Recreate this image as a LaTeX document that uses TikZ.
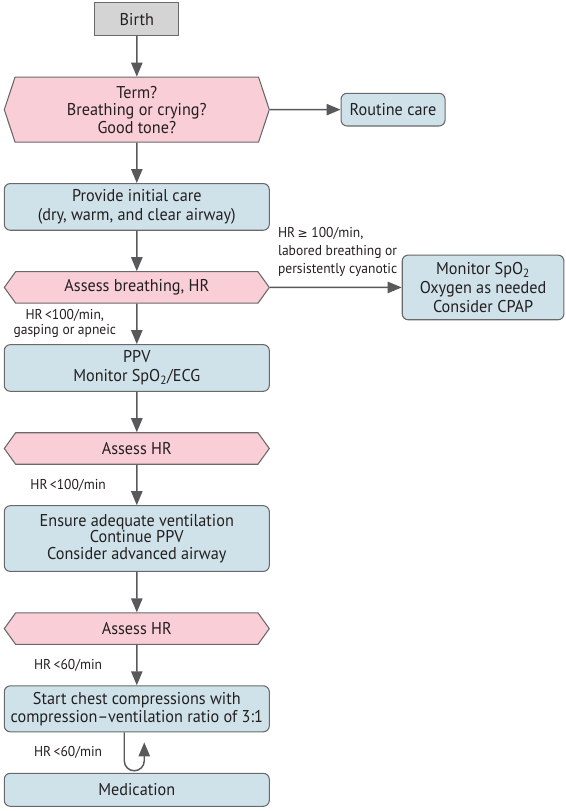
\documentclass[tikz,border=0pt]{standalone}
\usepackage{fontspec}
\setmainfont{PT Sans}[FakeStretch=0.95]
\newfontfamily\symfont{DejaVu Sans}[Scale=0.85]
\usetikzlibrary{positioning,shapes.symbols,arrows.meta,calc}

\definecolor{hexpink}{RGB}{249,206,215}
\definecolor{boxblue}{RGB}{207,226,234}
\definecolor{birthgray}{RGB}{212,212,212}
\definecolor{edgegray}{RGB}{105,105,107}
\definecolor{arrowgray}{RGB}{88,89,91}
\definecolor{txt}{RGB}{35,31,32}

\tikzset{
  box/.style={draw=edgegray, line width=0.8pt, fill=boxblue, rounded corners=4.5pt,
    align=center, minimum width=198.75pt, minimum height=35pt, inner sep=1pt,
    text=txt, font=\fontsize{12.8}{13.7}\selectfont},
  check/.style={signal, signal to=west and east, signal pointer angle=108.5,
    draw=edgegray, line width=0.8pt, fill=hexpink, align=center,
    minimum width=198.75pt, minimum height=23.6pt, inner sep=1pt,
    text=txt, font=\fontsize{12.8}{13.1}\selectfont},
  cond/.style={text=txt, align=center, inner sep=0pt,
    font=\fontsize{10.7}{13.7}\selectfont},
}

\begin{document}
\begin{tikzpicture}[->,>={Triangle[length=10.5pt,width=8.5pt]}, node distance=30.3pt,
  line width=1.1pt, arrowgray]

\useasboundingbox (-102.6pt,14.4pt) rectangle (321.9pt,-593.85pt);

\node[box, fill=birthgray, rounded corners=0pt, minimum width=63.2pt, minimum height=24.75pt] (birth) {Birth};
\node[check, signal pointer angle=143.4, minimum height=48.7pt, below=of birth] (term) {Term?\\Breathing or crying?\\Good tone?};
\node[box, minimum width=78pt, minimum height=24.5pt, right=53pt of term] (routine) {Routine care};
\node[box, below=of term] (init) {Provide initial care\\(dry, warm, and clear airway)};
\node[check, below=of init] (breath) {Assess breathing, HR};
\node[box, minimum width=121.3pt, minimum height=48.5pt, right=98.8pt of breath,
  font=\fontsize{12.8}{14.1}\selectfont] (monitor) {Monitor SpO\textsubscript{2}\\Oxygen as needed\\Consider CPAP};
\node[box, below=of breath, font=\fontsize{12.8}{14.4}\selectfont] (ppv) {PPV\\Monitor SpO\textsubscript{2}/ECG};
\node[check, below=of ppv] (hr1) {Assess HR};
\node[box, minimum height=49.3pt, below=of hr1, font=\fontsize{12.8}{12.6}\selectfont] (vent) {Ensure adequate ventilation\\Continue PPV\\Consider advanced airway};
\node[check, below=of vent] (hr2) {Assess HR};
\node[box, minimum height=34.5pt, below=of hr2] (chest) {Start chest compressions with\\compression--ventilation ratio of 3:1};
\node[box, minimum height=24.75pt, below=of chest] (med) {Medication};

\draw (birth) -- (term);
\draw (term) -- (routine);
\draw (term) -- (init);
\draw (init) -- (breath);
\draw (breath) -- node[cond, pos=0, anchor=south west, align=left, xshift=5.5pt, yshift=7.5pt]
  {HR\,{\symfont ≥} 100/min,\\labored breathing or\\persistently cyanotic} (monitor);
\draw (breath) -- node[cond, xshift=-54pt, font=\fontsize{10.7}{11.25}\selectfont]
  {HR\,<100/min,\\gasping or apneic} (ppv);
\draw (ppv) -- (hr1);
\draw (hr1) -- node[cond, xshift=-51.5pt] {HR\,<100/min} (vent);
\draw (vent) -- (hr2);
\draw (hr2) -- node[cond, xshift=-51.5pt] {HR\,<60/min} (chest);

% loop between compressions and medication
\draw ([xshift=-9.4pt]chest.south) -- ([xshift=-9.4pt,yshift=9pt]med.north)
  arc[start angle=180, end angle=360, radius=7.5pt] -- ([xshift=5.6pt,yshift=-7.5pt]chest.south);
\node[cond] (again) at ([xshift=-51.5pt]$(chest.south)!.5!(med.north)$) {HR\,<60/min};

\end{tikzpicture}
\end{document}
